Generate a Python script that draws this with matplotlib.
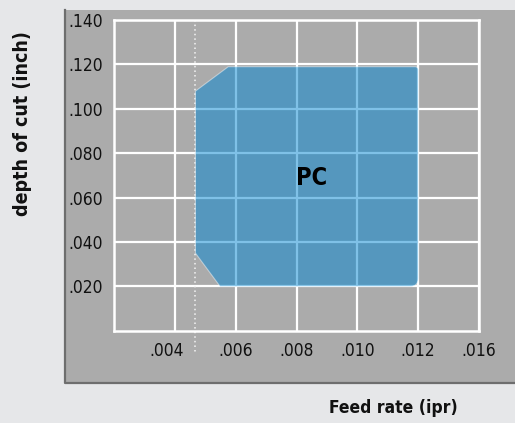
#!/usr/bin/env python3
"""Cutting range chart: depth of cut vs feed rate for the PC grade."""

import numpy as np
import matplotlib
matplotlib.use('Agg')
import matplotlib.pyplot as plt
from matplotlib.path import Path
from matplotlib.patches import PathPatch, Rectangle
from matplotlib.lines import Line2D
from matplotlib.transforms import ScaledTranslation

plt.rcParams['font.family'] = ['DejaVu Sans']
plt.rcParams['font.stretch'] = 'condensed'

# feed rate axis (ipr) -- ticks are evenly spaced, not linear
feed_ticks = [0.004, 0.006, 0.008, 0.010, 0.012, 0.016]
feed_labels = ['.004', '.006', '.008', '.010', '.012', '.016']
feed_edge = 0.002

# depth of cut axis (inch)
depth_ticks = [0.020, 0.040, 0.060, 0.080, 0.100, 0.120, 0.140]
depth_labels = ['.020', '.040', '.060', '.080', '.100', '.120', '.140']

# PC operating window, clockwise from lower-left chamfer
pc_feed = [0.00467, 0.00467, 0.00575, 0.012, 0.012, 0.00548]
pc_depth = [0.035, 0.108, 0.119, 0.119, 0.020, 0.020]
pc_label_pos = (0.0085, 0.069)

# minimum feed limit (dotted)
feed_min = 0.00467

BG = '#e6e7e9'
PANEL = '#ababab'


def fx(f):
    """feed value -> axis position (ticks evenly spaced)"""
    return np.interp(f, [feed_edge] + feed_ticks, np.arange(len(feed_ticks) + 1))


def window_path(xs, ys, r_tr, r_br):
    # right-hand corners rounded with quadratic curves
    (x0, y0), (x1, y1), (x2, y2), (x3, y3), (x4, y4), (x5, y5) = zip(xs, ys)
    verts = [(x0, y0), (x1, y1), (x2, y2),
             (x3 - r_tr[0], y3), (x3, y3), (x3, y3 - r_tr[1]),
             (x4, y4 + r_br[1]), (x4, y4), (x4 - r_br[0], y4),
             (x5, y5), (x0, y0)]
    codes = [Path.MOVETO, Path.LINETO, Path.LINETO,
             Path.LINETO, Path.CURVE3, Path.CURVE3,
             Path.LINETO, Path.CURVE3, Path.CURVE3,
             Path.LINETO, Path.CLOSEPOLY]
    return Path(verts, codes)


fig = plt.figure(figsize=(5.15, 4.23), dpi=100, facecolor=BG)

# gray panel behind the plot with a dark left/bottom edge
fig.patches.append(Rectangle((0.125, 0.0946), 0.875, 0.881, transform=fig.transFigure,
                             facecolor=PANEL, edgecolor='none', zorder=-2))
fig.lines.append(Line2D([0.126, 0.126, 1.0], [0.976, 0.0952, 0.0952],
                        transform=fig.transFigure, color='#6e6e6e', lw=1.6, zorder=-1))

ax = fig.add_axes([0.222, 0.218, 0.708, 0.7345])
ax.set_zorder(2)
ax.set_facecolor(PANEL)
ax.set_xlim(0, len(feed_ticks))
ax.set_ylim(0, depth_ticks[-1])

ax.set_xticks(fx(feed_ticks))
ax.set_xticklabels(feed_labels)
ax.set_yticks(depth_ticks)
ax.set_yticklabels(depth_labels)
ax.tick_params(length=0, labelsize=12.5, colors='#111111')
ax.tick_params(axis='x', pad=8)
ax.tick_params(axis='y', pad=8)
for lbl in ax.get_xticklabels() + ax.get_yticklabels():
    lbl.set_fontweight('medium')
first = ax.xaxis.get_majorticklabels()[0]
first.set_transform(first.get_transform() + ScaledTranslation(-0.08, 0, fig.dpi_scale_trans))

ax.grid(True, color='white', lw=1.6)
ax.set_axisbelow(True)
for s in ax.spines.values():
    s.set_color('white')
    s.set_linewidth(1.8)

# minimum feed line runs past the bottom of the grid
ax.plot([fx(feed_min)] * 2, [depth_ticks[-1], -0.010], ls=(0, (1, 2)), color='#f4f4f4',
        lw=1.1, clip_on=False, zorder=1)

path = window_path(fx(pc_feed), pc_depth, (0.05, 0.0014), (0.13, 0.0036))
ax.add_patch(PathPatch(path, facecolor=(0.0, 0.52, 0.82, 0.5),
                       edgecolor=(1, 1, 1, 0.45), lw=0.8, zorder=3))
ax.text(fx(pc_label_pos[0]), pc_label_pos[1], 'PC', fontsize=17, fontweight='bold',
        ha='center', va='center', color='black', zorder=4)

fig.text(0.043, 0.707, 'depth of cut (inch)', rotation=90, fontsize=14, fontweight='bold',
         ha='center', va='center', color='#111111')
fig.text(0.763, 0.035, 'Feed rate (ipr)', fontsize=12.5, fontweight='bold',
         ha='center', va='center', color='#111111')

fig.savefig('out.png', dpi=100, facecolor=BG)
